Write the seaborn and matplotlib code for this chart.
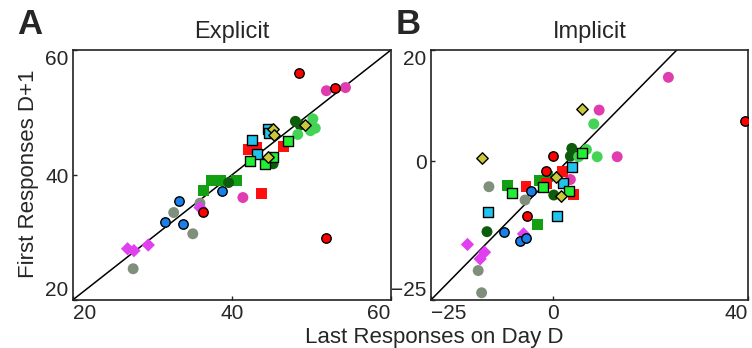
import numpy as np
import pandas as pd
import matplotlib
matplotlib.use("Agg")
import matplotlib.pyplot as plt
import seaborn as sns

# group ids, 4 points each, same order in both panels
group_ids = (["red_c"] * 4 + ["red_s"] * 4 + ["pink_c"] * 4 + ["mag_d"] * 4 +
             ["gray_c"] * 4 + ["blue_c"] * 4 + ["green_s"] * 4 + ["dkgreen_c"] * 4 +
             ["ltgreen_c"] * 4 + ["cyan_s"] * 4 + ["bgreen_s"] * 4 + ["yellow_d"] * 4)

# Explicit panel: last responses on day D (x) vs first responses D+1 (y)
explicit_last = [48.4, 53.0, 36.4, 51.8,
                 42.1, 43.1, 46.5, 43.7,
                 51.9, 54.3, 49.8, 41.4,
                 26.9, 27.7, 29.5, 36.0,
                 27.6, 32.7, 35.1, 36.0,
                 33.4, 31.6, 33.9, 38.8,
                 36.5, 37.4, 38.6, 40.6,
                 39.6, 45.2, 48.0, 48.6,
                 48.3, 50.2, 49.9, 50.5,
                 44.5, 44.7, 42.6, 43.2,
                 42.3, 44.2, 45.2, 47.1,
                 45.2, 45.3, 44.6, 49.2]
explicit_first = [56.4, 54.0, 34.1, 30.0,
                  44.1, 44.4, 44.5, 37.1,
                  53.5, 54.0, 47.8, 36.4,
                  28.2, 27.9, 28.8, 34.8,
                  25.0, 34.0, 30.6, 35.5,
                  35.9, 32.5, 32.2, 37.4,
                  37.5, 39.2, 39.1, 39.1,
                  38.8, 41.8, 48.6, 48.0,
                  46.5, 49.0, 47.1, 47.5,
                  47.3, 46.8, 45.6, 43.4,
                  42.3, 41.7, 42.9, 45.5,
                  47.3, 46.4, 42.9, 48.0]

# Implicit panel
implicit_last = [39.4, 0.1, -1.4, -5.3,
                 -5.5, -1.2, 2.0, 4.3,
                 23.7, 9.5, 13.2, 3.6,
                 -17.5, -14.9, -14.0, -6.0,
                 -13.1, -5.7, -15.3, -14.6,
                 -4.5, -10.1, -6.7, -5.5,
                 -9.3, -2.7, -1.1, -3.1,
                 3.9, 3.6, 0.2, -13.5,
                 8.4, 6.9, 9.1, 5.3,
                 4.0, 2.1, 0.9, -13.3,
                 5.9, 3.4, -2.0, -8.3,
                 6.0, -14.6, 0.6, 1.6]
implicit_first = [7.2, 1.0, -1.8, -9.9,
                  -4.6, -4.1, -1.9, -6.0,
                  15.1, 9.2, 0.8, -3.3,
                  -15.0, -17.6, -16.4, -13.1,
                  -4.6, -7.0, -19.7, -23.7,
                  -5.3, -12.8, -14.4, -13.8,
                  -4.3, -3.5, -2.8, -11.4,
                  2.3, 0.9, -6.1, -12.7,
                  6.7, 2.1, 0.8, 0.8,
                  -1.1, -3.9, -9.8, -9.1,
                  1.5, -5.3, -4.6, -5.7,
                  9.4, 0.5, -2.9, -6.2]

# reference lines
line_a_x = [20, 60]
line_a_y = [20, 60]
line_b_x = [-25, 25.4]
line_b_y = [-25, 20]

colors = {"red_c": "#ff0000", "red_s": "#ff1010", "pink_c": "#e03cb0",
          "mag_d": "#e040f0", "gray_c": "#7f8f7b", "blue_c": "#1a7fe8",
          "green_s": "#12a012", "dkgreen_c": "#0c5c0c", "ltgreen_c": "#44d455",
          "cyan_s": "#22c4ee", "bgreen_s": "#22ee33", "yellow_d": "#c8c83a"}
markers = {"red_c": "o", "red_s": "s", "pink_c": "o", "mag_d": "D",
           "gray_c": "o", "blue_c": "o", "green_s": "s", "dkgreen_c": "o",
           "ltgreen_c": "o", "cyan_s": "s", "bgreen_s": "s", "yellow_d": "D"}
edged = ["red_c", "blue_c", "cyan_s", "bgreen_s", "yellow_d"]
# plain groups first, edged ones on top
draw_order = ["gray_c", "pink_c", "mag_d", "green_s", "red_s", "dkgreen_c",
              "ltgreen_c", "red_c", "blue_c", "cyan_s", "bgreen_s", "yellow_d"]

sns.set_style("ticks")
plt.rcParams["font.family"] = ["Liberation Sans", "DejaVu Sans"]

fig = plt.figure(figsize=(7.52, 3.48), dpi=100)
ax_a = fig.add_axes([0.0967, 0.138, 0.423, 0.718])
ax_b = fig.add_axes([0.573, 0.138, 0.4215, 0.718])


def draw(ax, xs, ys, lx, ly, lims_x, lims_y, ticks_x, ticks_y, title):
    df = pd.DataFrame({"x": xs, "y": ys, "grp": group_ids})
    ax.plot(lx, ly, color="black", lw=1.1, zorder=1)
    for g in draw_order:
        sub = df[df.grp == g]
        has_edge = g in edged
        if markers[g] == "D":
            size = 34 if has_edge else 46
        else:
            size = 46 if has_edge else 62
        sns.scatterplot(data=sub, x="x", y="y", color=colors[g],
                        marker=markers[g], s=size,
                        edgecolor="black" if has_edge else "none",
                        linewidth=1.0, legend=False, ax=ax, zorder=3)
    ax.set_xlim(lims_x)
    ax.set_ylim(lims_y)
    ax.set_xticks(ticks_x)
    ax.set_yticks(ticks_y)
    ax.set_xlabel("")
    ax.set_ylabel("")
    ax.tick_params(direction="in", length=3, width=1, labelsize=15, pad=3)
    for sp in ax.spines.values():
        sp.set_linewidth(1.2)
        sp.set_color("#222222")
    xl = ax.get_xticklabels()
    xl[0].set_ha("left")
    xl[-1].set_ha("right")
    yl = ax.get_yticklabels()
    yl[0].set_va("bottom")
    yl[-1].set_va("top")
    ax.set_title(title, fontsize=17, pad=9)


draw(ax_a, explicit_last, explicit_first, line_a_x, line_a_y,
     (20, 60), (20, 60), [20, 40, 60], [20, 40, 60], "Explicit")
draw(ax_b, implicit_last, implicit_first, line_b_x, line_b_y,
     (-25, 40), (-25, 20), [-25, 0, 40], [-25, 0, 20], "Implicit")

fig.text(0.038, 0.5, "First Responses D+1", rotation=90, fontsize=16,
         ha="center", va="center")
fig.text(0.578, 0.03, "Last Responses on Day D", fontsize=16,
         ha="center", va="center")
fig.text(0.04, 0.93, "A", fontsize=25, weight="bold", ha="center", va="center")
fig.text(0.543, 0.93, "B", fontsize=25, weight="bold", ha="center", va="center")

fig.savefig("out.png", dpi=100)
